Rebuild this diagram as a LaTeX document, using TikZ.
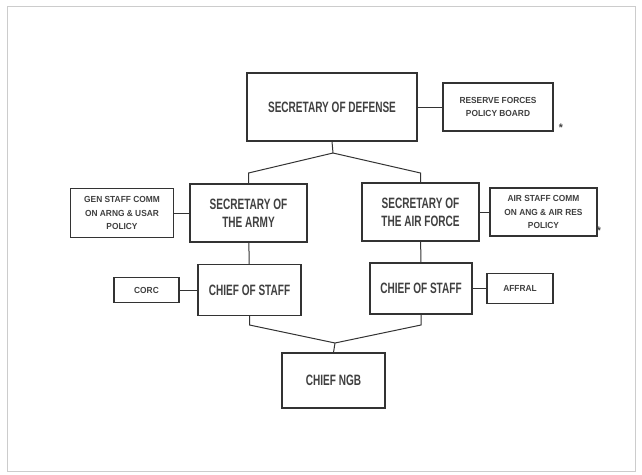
\documentclass[tikz,border=0pt]{standalone}
\usepackage{fontspec}
\setmainfont{Liberation Sans}
\newfontfamily\bigfont[FakeStretch=0.67]{Liberation Sans Bold}
\newfontfamily\smallfont[FakeStretch=0.95]{Liberation Sans Bold}
\begin{document}
\begin{tikzpicture}[x=1pt, y=-1pt,
        box/.style={draw=black!80, line width=1.2pt, align=center, inner sep=0pt, text=black!75},
        bigbox/.style={box, font=\bigfont\fontsize{15}{18}\selectfont},
        smallbox/.style={box, font=\smallfont\fontsize{8.8}{13.5}\selectfont},
        starmark/.style={font=\smallfont\fontsize{11}{11}\selectfont, text=black!75, inner sep=0pt},
        wire/.style={draw=black!80, line width=1pt}]
    \useasboundingbox (0,0) rectangle (642,474);
    \draw[gray!40, line width=1pt] (7,6) rectangle (635,471);
    \node[bigbox, minimum width=170pt, minimum height=68pt] (sod) at (332,107) {SECRETARY OF DEFENSE};
    \node[smallbox, minimum width=110pt, minimum height=48pt] (rfpb) at (498,107) {RESERVE FORCES\\POLICY BOARD};
    \node[bigbox, minimum width=117pt, minimum height=58pt] (soa) at (248.5,213) {SECRETARY OF\\THE ARMY};
    \node[smallbox, minimum width=103pt, minimum height=49pt] (gsc) at (122,213) {GEN STAFF COMM\\ON ARNG \& USAR\\POLICY};
    \node[bigbox, minimum width=117pt, minimum height=58pt] (saf) at (420.5,212) {SECRETARY OF\\THE AIR FORCE};
    \node[smallbox, minimum width=107pt, minimum height=48pt] (asc) at (543.5,212) {AIR STAFF COMM\\ON ANG \& AIR RES\\POLICY};
    \node[bigbox, minimum width=103pt, minimum height=51pt] (cosa) at (249.5,290) {CHIEF OF STAFF};
    \node[smallbox, minimum width=65pt, minimum height=25pt] (corc) at (146.5,290) {CORC};
    \node[bigbox, minimum width=102pt, minimum height=51pt] (cosaf) at (421,288.5) {CHIEF OF STAFF};
    \node[smallbox, minimum width=66pt, minimum height=30pt] (afral) at (520,288.5) {AFFRAL};
    \node[bigbox, minimum width=103pt, minimum height=55pt] (ngb) at (333.5,380.5) {CHIEF NGB};
    \node[starmark] (rfpbmark) at (561,128) {*};
    \node[starmark] (ascmark) at (599,231) {*};
    \coordinate (forktop) at (333,153);
    \coordinate (forkbot) at (335,343);
    \draw[wire] (sod) -- (rfpb);
    \draw[wire] (gsc) -- (soa);
    \draw[wire] (saf) -- (asc);
    \draw[wire] (corc) -- (cosa);
    \draw[wire] (cosaf) -- (afral);
    \draw[wire] (soa) -- (cosa);
    \draw[wire] (saf) -- (cosaf);
    \draw[wire] (sod.south) -- (forktop) -- (soa.north |- 0,173) -- (soa.north);
    \draw[wire] (forktop) -- (saf.north |- 0,173) -- (saf.north);
    \draw[wire] (cosa.south) -- (cosa.south |- 0,325) -- (forkbot) -- (cosaf.south |- 0,325) -- (cosaf.south);
    \draw[wire] (forkbot) -- (ngb.north);
\end{tikzpicture}
\end{document}
